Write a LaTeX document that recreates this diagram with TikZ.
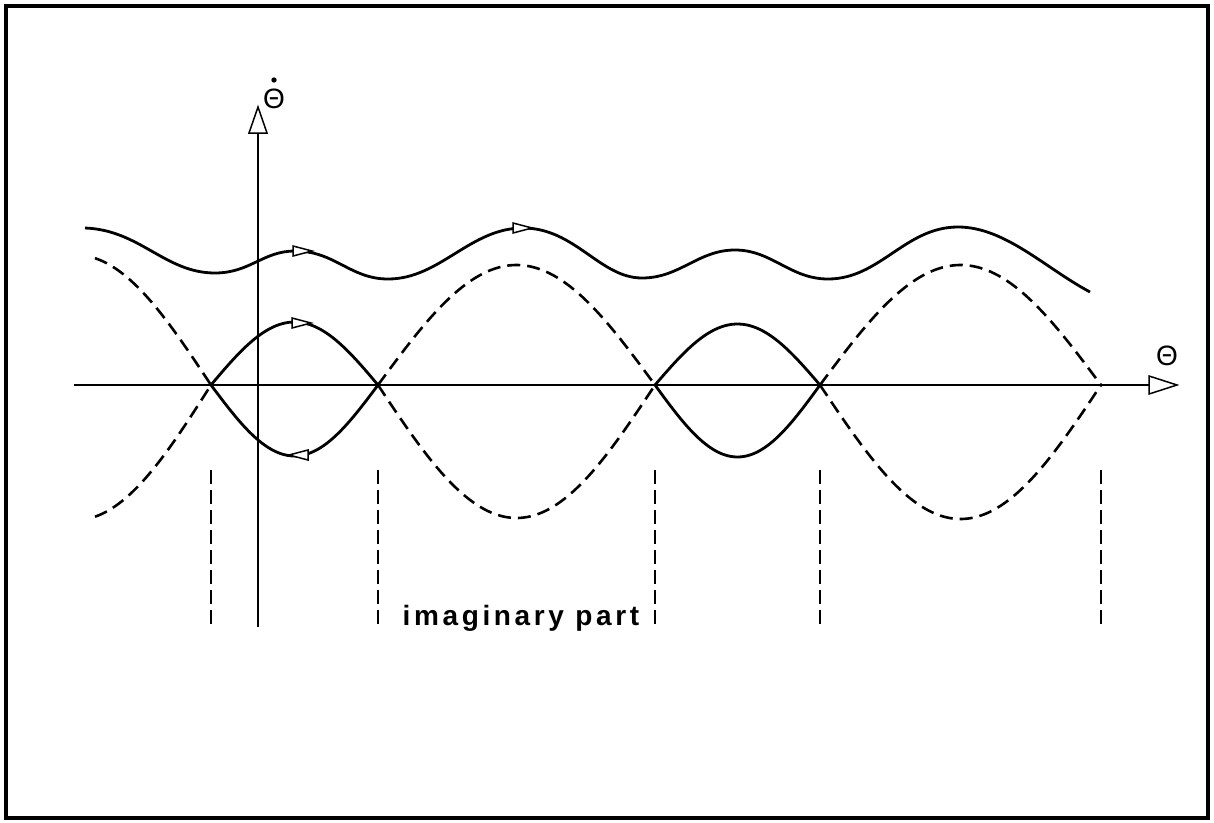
\documentclass[tikz,border=0pt]{standalone}
\usepackage{fontspec}
\setmainfont{Liberation Sans}
\begin{document}
\begin{tikzpicture}[x=1pt,y=-1pt,
  curve/.style={line width=2.8pt, line join=round},
  dcurve/.style={line width=2.6pt, dash pattern=on 13pt off 7pt},
  vdash/.style={line width=1.6pt, dash pattern=on 14pt off 6pt},
  axis/.style={line width=1.8pt},
  tipmark/.style={line width=1.5pt, fill=white, line join=miter},
  lbl/.style={inner sep=0pt, font=\fontsize{28}{33}\selectfont}]
\useasboundingbox (0,0) rectangle (1214,822);
\draw[line width=3.2pt] (6,6) rectangle (1208,818);

% axes
\coordinate (xl) at (74,385);
\coordinate (xr) at (1149,385);
\coordinate (yb) at (258,627);
\coordinate (yt) at (258,133);
\draw[axis] (xl) -- (xr);
\draw[axis] (yb) -- (yt);
\draw[tipmark] (1149,376) -- (1177,385) -- (1149,394) -- cycle;
\draw[tipmark] (249,133) -- (258,107) -- (267,133) -- cycle;
\node[lbl] (thdot) at (274,99) {Θ};
\fill (274,80) circle (2.7pt);
\node[lbl] (th) at (1167,356) {Θ};

% vertical dashed lines
\foreach \xx in {211,378,655,820,1101}{
  \draw[vdash] (\xx,470) -- (\xx,628);
}

% lenses (solid)
\draw[curve] plot[domain=211:378, samples=60] (\x, {385-63*sin(180/167*(\x-211))});
\draw[curve] plot[domain=211:378, samples=60] (\x, {385+71*sin(180/167*(\x-211))});
\draw[curve] plot[domain=655:820, samples=60] (\x, {385-61*sin(180/165*(\x-655))});
\draw[curve] plot[domain=655:820, samples=60] (\x, {385+72*sin(180/165*(\x-655))});

% dashed separatrix arches
\draw[dcurve] plot[domain=95:211, samples=40] (\x, {385-130*sin(180/270*(211-\x))});
\draw[dcurve] plot[domain=95:211, samples=40] (\x, {385+135*sin(180/270*(211-\x))});
\draw[dcurve] plot[domain=378:655, samples=80] (\x, {385-120*sin(180/277*(\x-378))});
\draw[dcurve] plot[domain=378:655, samples=80] (\x, {385+133*sin(180/277*(\x-378))});
\draw[dcurve] plot[domain=820:1101, samples=80] (\x, {385-120*sin(180/281*(\x-820))});
\draw[dcurve] plot[domain=820:1101, samples=80] (\x, {385+134*sin(180/281*(\x-820))});

% top wavy curve
\draw[curve] (85,228)
  .. controls (140,230) and (165,273) .. (215,273)
  .. controls (250,273) and (263,251) .. (295,251)
  .. controls (335,251) and (350,279) .. (388,279)
  .. controls (440,279) and (470,228) .. (523,228)
  .. controls (575,228) and (600,278) .. (642,278)
  .. controls (680,278) and (698,250) .. (735,250)
  .. controls (772,250) and (790,279) .. (828,279)
  .. controls (880,279) and (905,227) .. (958,227)
  .. controls (1005,227) and (1045,268) .. (1090,292);

% direction arrows
\draw[tipmark] (293,246) -- (312,251) -- (293,256) -- cycle;
\draw[tipmark] (513,223) -- (532,228) -- (513,233) -- cycle;
\draw[tipmark] (292,318) -- (311,323) -- (292,328) -- cycle;
\draw[tipmark] (308,450) -- (289,455) -- (308,460) -- cycle;

% label
\node[inner sep=0pt, anchor=base, font=\fontsize{28}{34}\selectfont\bfseries\addfontfeatures{LetterSpace=13}] (imag) at (521,625) {imaginary part};
\end{tikzpicture}
\end{document}
